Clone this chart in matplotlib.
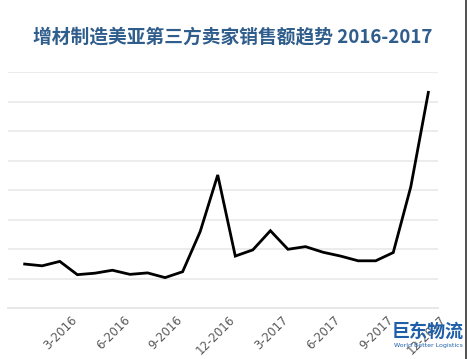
import numpy as np
import matplotlib
matplotlib.use("Agg")
import matplotlib.pyplot as plt
import matplotlib.transforms as mtransforms

plt.rcParams['font.family'] = ['Noto Sans CJK SC', 'DejaVu Sans']

# monthly sales trend, Jan 2016 - Dec 2017 (relative units)
months = [f"{m}-{y}" for y in (2016, 2017) for m in range(1, 13)]
sales = [1.49, 1.43, 1.58, 1.13, 1.18, 1.28, 1.14, 1.19, 1.03, 1.23, 2.59, 4.51,
         1.76, 1.97, 2.62, 1.99, 2.08, 1.89, 1.76, 1.60, 1.60, 1.88, 4.11, 7.31]
tick_idx = [2, 5, 8, 11, 14, 17, 20, 23]
title = "增材制造美亚第三方卖家销售额趋势 2016-2017"

fig = plt.figure(figsize=(4.68, 3.59), dpi=100)
ax = fig.add_axes([8 / 468, 1 - 308 / 359, 430 / 468, 236 / 359])

x = np.arange(len(sales))
ax.plot(x, sales, color="black", lw=2.0, solid_joinstyle="miter")

ax.set_xlim(-0.95, len(sales) - 0.45)
ax.set_ylim(0, 8)
ax.set_yticks(np.arange(0, 9))
ax.yaxis.grid(True, color="#ebebeb", lw=1.3)
ax.set_axisbelow(True)
for s in ["top", "right", "left"]:
    ax.spines[s].set_visible(False)
ax.spines["bottom"].set_color("#e6e6e6")
ax.spines["bottom"].set_linewidth(1.3)
ax.tick_params(axis="y", left=False, labelleft=False)
ax.tick_params(axis="x", length=0, pad=4)

ax.set_xticks(x[tick_idx])
labels = ax.set_xticklabels([months[i] for i in tick_idx], rotation=45, ha="right",
                            va="top", rotation_mode="anchor", fontsize=8.5, color="#595959",
                            family="DejaVu Sans")
offset = mtransforms.ScaledTranslation(11 / 100, 0, fig.dpi_scale_trans)
for lab in labels:
    lab.set_transform(lab.get_transform() + offset)

fig.text(0.498, 1 - 37 / 359, title, ha="center", va="center", fontsize=13.5,
         fontweight="bold", color="#2f5d8c")

# watermark logo text
fig.text(428 / 468, 1 - 331 / 359, "巨东物流", ha="center", va="center", fontsize=13,
         color="#1f5fa8", fontweight="bold")
fig.text(428 / 468, 1 - 346 / 359, "World Better Logistics", ha="center", va="center",
         fontsize=4.5, color="#1f5fa8", family="DejaVu Sans")

# image border on the right
fig.add_artist(plt.Line2D([466 / 468, 466 / 468], [0, 1], color="#333333", lw=1.2,
                          transform=fig.transFigure))

fig.savefig("out.png", dpi=100)
